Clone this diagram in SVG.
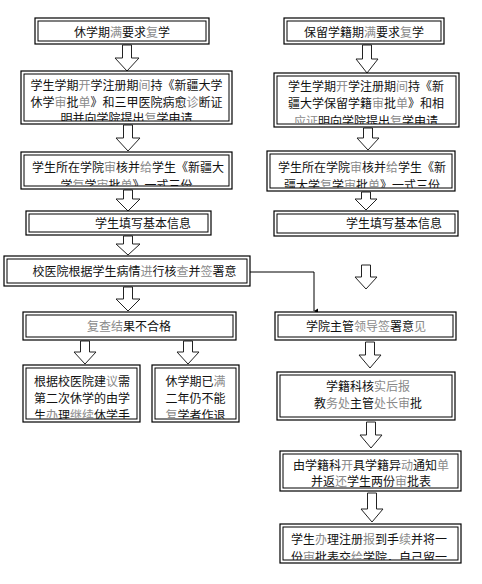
<svg xmlns="http://www.w3.org/2000/svg" width="482" height="584" viewBox="0 0 482 584">
<style>
.o{fill:#fff;stroke:#000;stroke-width:1.2}
.i{fill:none;stroke:#000;stroke-width:1}
text{font-family:"Noto Sans CJK SC","Noto Sans",sans-serif;font-size:12px;fill:#111}
.c{text-anchor:middle}
.g{fill:#8a8a8a}
.ba{fill:#fff;stroke:#222;stroke-width:1}
.ln{fill:none;stroke:#000;stroke-width:1}
</style>
<defs>
<marker id="ah" markerWidth="6" markerHeight="6" refX="3" refY="5" orient="auto" markerUnits="userSpaceOnUse" viewBox="0 0 6 6">
<path d="M0.5,1 L3,5 L5.5,1 Z" fill="#000"/>
</marker>
<clipPath id="cB"><rect x="24" y="74" width="205" height="47"/></clipPath>
<clipPath id="cC"><rect x="24" y="155" width="205" height="31"/></clipPath>
<clipPath id="cG"><rect x="26" y="368" width="111" height="51"/></clipPath>
<clipPath id="cH"><rect x="155" y="368" width="81" height="51"/></clipPath>
<clipPath id="cB2"><rect x="277" y="76" width="179" height="48"/></clipPath>
<clipPath id="cC2"><rect x="270" y="154" width="182" height="34"/></clipPath>
<clipPath id="cI2"><rect x="283" y="527" width="175" height="33"/></clipPath>
</defs>
<rect width="482" height="584" fill="#fff"/>

<g id="connectors">
<path class="ba" d="M122.5,45 V58 H115 L127,71 L139,58 H131.5 V45 Z"/>
<path class="ba" d="M123.5,125 V138 H116 L128,151 L140,138 H132.5 V125 Z"/>
<path class="ba" d="M123.5,190 V199 H116 L128,211 L140,199 H132.5 V190 Z"/>
<path class="ba" d="M123.5,236 V244 H116 L128,255 L140,244 H132.5 V236 Z"/>
<path class="ba" d="M123.5,287 V299 H116 L128,311 L140,299 H132.5 V287 Z"/>
<path class="ba" d="M80.5,341 V352 H74 L85,364 L96,352 H89.5 V341 Z"/>
<path class="ba" d="M183.5,341 V352 H177 L188,364 L199,352 H192.5 V341 Z"/>
<path class="ba" d="M362.5,45 V59 H356 L367,73 L378,59 H371.5 V45 Z"/>
<path class="ba" d="M363.5,128 V138 H357 L368,150 L379,138 H372.5 V128 Z"/>
<path class="ba" d="M361.5,192 V199 H355 L366,210 L377,199 H370.5 V192 Z"/>
<path class="ba" d="M361.5,265 V277 H355 L366,289 L377,277 H370.5 V265 Z"/>
<path class="ba" d="M365.5,342 V355 H359 L370,368 L381,355 H374.5 V342 Z"/>
<path class="ba" d="M366.5,422 V435 H360 L371,448 L382,435 H375.5 V422 Z"/>
<path class="ba" d="M367.5,493 V509 H361 L372,522 L383,509 H376.5 V493 Z"/>
<path class="ln" d="M250,272 H314 V311" marker-end="url(#ah)"/>
</g>

<g id="n1">
<rect class="o" x="35" y="18" width="174" height="26"/><rect class="i" x="38" y="21" width="168" height="20"/>
<text class="c" x="122" y="36.5">休学期<tspan class="g">满</tspan>要求<tspan class="g">复</tspan>学</text>
</g>
<g id="n2">
<rect class="o" x="21" y="71" width="211" height="53"/><rect class="i" x="24" y="74" width="205" height="47"/>
<g clip-path="url(#cB)">
<text class="c" x="126.5" y="90">学生学期<tspan class="g">开</tspan>学注册期<tspan class="g">间</tspan>持《新疆大学</text>
<text class="c" x="126.5" y="106.5">休学<tspan class="g">审</tspan>批<tspan class="g">单</tspan>》和三甲医院病愈<tspan class="g">诊</tspan>断证</text>
<text class="c" x="126.5" y="123">明并向学院提出<tspan class="g">复</tspan>学申请</text>
</g>
</g>
<g id="n3">
<rect class="o" x="21" y="152" width="211" height="37"/><rect class="i" x="24" y="155" width="205" height="31"/>
<g clip-path="url(#cC)">
<text class="c" x="128" y="171.5">学生所在学院<tspan class="g">审</tspan>核并<tspan class="g">给</tspan>学生《新疆大</text>
<text class="c" x="126.5" y="189.5">学<tspan class="g">复</tspan>学<tspan class="g">审</tspan>批<tspan class="g">单</tspan>》一式三份</text>
</g>
</g>
<g id="n4">
<rect class="o" x="26" y="211" width="185" height="24"/><rect class="i" x="29" y="214" width="179" height="18"/>
<text x="95" y="227.5">学生填写基本信息</text>
</g>
<g id="n5">
<rect class="o" x="4" y="256" width="246" height="30"/><rect class="i" x="7" y="259" width="240" height="24"/>
<text class="c" x="134.5" y="276">校医院根据学生病情<tspan class="g">进</tspan>行核<tspan class="g">查</tspan>并<tspan class="g">签</tspan>署意</text>
</g>
<g id="n6">
<rect class="o" x="23" y="312" width="213" height="28"/><rect class="i" x="26" y="315" width="207" height="22"/>
<text class="c" x="129" y="330.5"><tspan class="g">复查结</tspan>果不合格</text>
</g>
<g id="n7">
<rect class="o" x="23" y="365" width="117" height="57"/><rect class="i" x="26" y="368" width="111" height="51"/>
<g clip-path="url(#cG)">
<text class="c" x="82" y="385.5">根据校医院建<tspan class="g">议</tspan>需</text>
<text class="c" x="82" y="402.5">第二次休学的由学</text>
<text class="c" x="82" y="419.5">生<tspan class="g">办</tspan>理<tspan class="g">继续</tspan>休学手</text>
</g>
</g>
<g id="n8">
<rect class="o" x="152" y="365" width="87" height="57"/><rect class="i" x="155" y="368" width="81" height="51"/>
<g clip-path="url(#cH)">
<text class="c" x="195.5" y="385.5">休学期已<tspan class="g">满</tspan></text>
<text class="c" x="195.5" y="402.5">二年仍不能</text>
<text class="c" x="195.5" y="419.5"><tspan class="g">复</tspan>学者作退</text>
</g>
</g>

<g id="r1">
<rect class="o" x="284" y="18" width="160" height="26"/><rect class="i" x="287" y="21" width="154" height="20"/>
<text class="c" x="364" y="36.5">保留学籍期<tspan class="g">满</tspan>要求<tspan class="g">复</tspan>学</text>
</g>
<g id="r2">
<rect class="o" x="274" y="73" width="185" height="54"/><rect class="i" x="277" y="76" width="179" height="48"/>
<g clip-path="url(#cB2)">
<text class="c" x="366" y="91">学生学期<tspan class="g">开</tspan>学注册期<tspan class="g">间</tspan>持《新</text>
<text class="c" x="366" y="108">疆大学保留学籍<tspan class="g">审</tspan>批<tspan class="g">单</tspan>》和相</text>
<text class="c" x="366" y="126"><tspan class="g">应证</tspan>明向学院提出<tspan class="g">复</tspan>学申请</text>
</g>
</g>
<g id="r3">
<rect class="o" x="267" y="151" width="188" height="40"/><rect class="i" x="270" y="154" width="182" height="34"/>
<g clip-path="url(#cC2)">
<text class="c" x="362" y="171.5">学生所在学院<tspan class="g">审</tspan>核并<tspan class="g">给</tspan>学生《新</text>
<text class="c" x="362" y="189.5">疆大学<tspan class="g">复</tspan>学<tspan class="g">审</tspan>批<tspan class="g">单</tspan>》一式三份</text>
</g>
</g>
<g id="r4">
<rect class="o" x="274" y="211" width="184" height="25"/><rect class="i" x="277" y="214" width="178" height="19"/>
<text x="346" y="228">学生填写基本信息</text>
</g>
<g id="r5">
<rect class="o" x="275" y="312" width="181" height="28"/><rect class="i" x="278" y="315" width="175" height="22"/>
<text class="c" x="366" y="330.5">学院主管<tspan class="g">领导签</tspan>署意<tspan class="g">见</tspan></text>
</g>
<g id="r6">
<rect class="o" x="277" y="372" width="178" height="48"/><rect class="i" x="280" y="375" width="172" height="42"/>
<text class="c" x="368" y="390.5">学籍科核<tspan class="g">实后报</tspan></text>
<text class="c" x="368" y="407.5">教<tspan class="g">务处</tspan>主管<tspan class="g">处长审</tspan>批</text>
</g>
<g id="r7">
<rect class="o" x="280" y="451" width="181" height="40"/><rect class="i" x="283" y="454" width="175" height="34"/>
<text class="c" x="371" y="469.5">由学籍科<tspan class="g">开</tspan>具学籍异<tspan class="g">动</tspan>通知<tspan class="g">单</tspan></text>
<text class="c" x="371" y="486">并返<tspan class="g">还</tspan>学生两份<tspan class="g">审</tspan>批表</text>
</g>
<g id="r8">
<rect class="o" x="280" y="524" width="181" height="39"/><rect class="i" x="283" y="527" width="175" height="33"/>
<g clip-path="url(#cI2)">
<text class="c" x="369" y="543.5">学生<tspan class="g">办</tspan>理注册<tspan class="g">报</tspan>到手<tspan class="g">续</tspan>并将一</text>
<text class="c" x="369" y="561.5">份<tspan class="g">审</tspan>批表交<tspan class="g">给</tspan>学院，自己留一</text>
</g>
</g>
</svg>
